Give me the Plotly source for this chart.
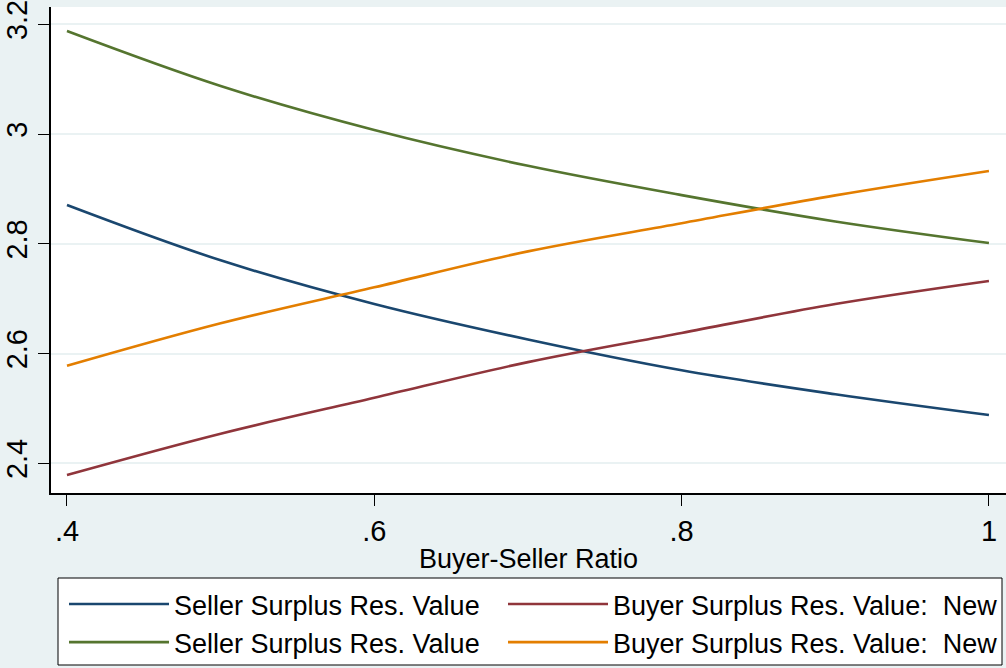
import plotly.graph_objects as go

ratio = [0.4, 0.5, 0.6, 0.7, 0.8, 0.9, 1.0]
seller_a = [2.8707, 2.7699, 2.6903, 2.6256, 2.5695, 2.5259, 2.4880]
buyer_a = [2.3787, 2.4540, 2.5194, 2.5844, 2.6375, 2.6903, 2.7323]
seller_b = [3.1877, 3.0875, 3.0073, 2.9421, 2.8887, 2.8408, 2.8014]
buyer_b = [2.5776, 2.6551, 2.7207, 2.7862, 2.8375, 2.8882, 2.9327]

names = ["Seller Surplus Res. Value", "Buyer Surplus Res. Value:  New",
         "Seller Surplus Res. Value", "Buyer Surplus Res. Value:  New"]
series = [seller_a, buyer_a, seller_b, buyer_b]
colors = ["#1a476f", "#90353b", "#55752f", "#e37e00"]
legend_cols = ["legend", "legend2", "legend", "legend2"]

x_ticks = [0.4, 0.6, 0.8, 1.0]
x_ticklabels = [".4", ".6", ".8", "1"]
y_ticks = [2.4, 2.6, 2.8, 3.0, 3.2]
y_ticklabels = ["2.4", "2.6", "2.8", "3", "3.2"]

BG = "rgb(234,242,243)"
FONT = "Liberation Sans, Arial, sans-serif"
W, H = 1006, 668
ML, MR, MT, MB = 51, 0, 7, 175
PW, PH = W - ML - MR, H - MT - MB


def px_x(p):
    return (p - ML) / PW


def px_y(p):
    return (H - MB - p) / PH


fig = go.Figure()
for nm, ys, c, lg in zip(names, series, colors, legend_cols):
    fig.add_trace(go.Scatter(x=ratio, y=ys, mode="lines", name=nm, legend=lg,
                             line=dict(color=c, width=2.6, shape="spline")))

leg_common = dict(
    orientation="v", xanchor="left",
    yref="container", y=1 - 580 / H, yanchor="top",
    bgcolor="rgba(0,0,0,0)", borderwidth=0,
    font=dict(size=27, family=FONT, color="black"),
    itemwidth=100, tracegroupgap=0,
)

fig.update_layout(
    width=W, height=H,
    margin=dict(l=ML, r=MR, t=MT, b=MB),
    paper_bgcolor=BG, plot_bgcolor="white",
    font=dict(family=FONT, color="black"),
    showlegend=True,
    legend=dict(x=px_x(64), **leg_common),
    legend2=dict(x=px_x(503), **leg_common),
    shapes=[dict(type="rect", xref="paper", yref="paper",
                 x0=px_x(58), x1=px_x(1002), y0=px_y(578), y1=px_y(665),
                 line=dict(color="black", width=1), fillcolor="white", layer="below")],
    xaxis=dict(
        range=[0.3896, 1.0111], tickvals=x_ticks, ticktext=x_ticklabels,
        ticks="outside", ticklen=11, tickcolor="black", tickwidth=1,
        tickfont=dict(size=29, family=FONT, color="black"),
        showline=True, linecolor="black", linewidth=1.5, mirror=False,
        showgrid=False, zeroline=False,
        title=dict(text="Buyer-Seller Ratio", font=dict(size=27, family=FONT, color="black"),
                   standoff=4),
    ),
    yaxis=dict(
        range=[2.3459, 3.2315], tickvals=y_ticks, ticktext=y_ticklabels,
        ticks="outside", ticklen=11, tickcolor="black", tickwidth=1,
        tickangle=-90, ticklabeloverflow="allow",
        tickfont=dict(size=29, family=FONT, color="black"),
        showline=True, linecolor="black", linewidth=1.5, mirror=False,
        showgrid=True, gridcolor=BG, gridwidth=2, zeroline=False,
    ),
)

fig.write_html("out.html")
